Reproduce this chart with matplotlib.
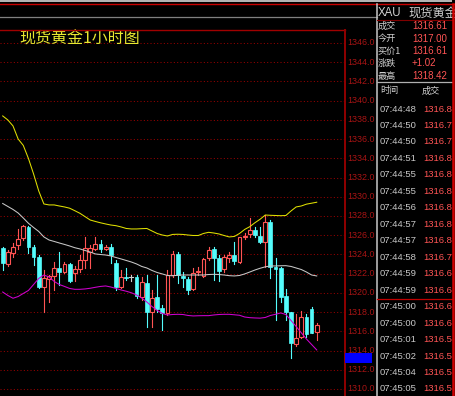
import matplotlib
matplotlib.use('Agg')
import matplotlib.pyplot as plt
import matplotlib.transforms as mtransforms
from matplotlib.patches import Rectangle
from matplotlib.lines import Line2D

# 1 hour candles, spot gold
open_ = [1324.64, 1323.01, 1324.12, 1324.99, 1325.68, 1326.89, 1324.74, 1323.77, 1320.65, 1321.41,
         1321.76, 1322.56, 1322.21, 1323.01, 1322.04, 1322.46, 1323.43, 1324.22, 1324.57, 1325.09,
         1324.57, 1324.81, 1323.15, 1320.65, 1321.69, 1321.62, 1321.62, 1319.61, 1320.99, 1318.05,
         1319.54, 1318.40, 1317.88, 1321.87, 1324.05, 1321.76, 1321.41, 1320.37, 1322.18, 1321.76,
         1323.67, 1324.54, 1323.67, 1322.45, 1323.67, 1323.95, 1323.25, 1325.78, 1326.13, 1326.55,
         1325.96, 1325.33, 1327.41, 1322.66, 1322.56, 1319.68, 1317.98, 1314.69, 1315.45, 1317.53,
         1318.29, 1315.97]
high = [1324.74, 1324.47, 1325.16, 1326.62, 1327.07, 1326.96, 1324.99, 1323.95, 1322.39, 1321.86,
        1323.25, 1324.29, 1323.25, 1323.08, 1322.80, 1323.95, 1325.82, 1324.99, 1325.85, 1325.51,
        1324.99, 1325.09, 1323.43, 1322.39, 1322.56, 1321.86, 1321.86, 1321.69, 1321.86, 1320.30,
        1321.86, 1318.74, 1322.39, 1324.36, 1324.29, 1322.21, 1321.69, 1322.56, 1322.73, 1323.60,
        1324.81, 1324.81, 1323.95, 1323.95, 1324.29, 1325.33, 1325.85, 1326.27, 1327.76, 1326.89,
        1326.83, 1328.11, 1327.59, 1323.60, 1322.73, 1320.37, 1318.05, 1317.81, 1318.15, 1317.81,
        1318.50, 1316.91]
low = [1322.39, 1322.80, 1323.77, 1324.54, 1325.51, 1324.12, 1322.91, 1320.48, 1318.05, 1319.09,
       1320.30, 1320.82, 1322.11, 1321.17, 1321.27, 1322.21, 1322.59, 1322.56, 1324.47, 1324.29,
       1324.47, 1323.08, 1320.30, 1320.48, 1321.34, 1321.27, 1319.44, 1319.26, 1316.49, 1316.49,
       1318.05, 1316.14, 1317.70, 1321.69, 1321.07, 1320.65, 1319.89, 1320.30, 1321.87, 1321.62,
       1323.43, 1321.34, 1321.28, 1322.21, 1323.25, 1323.01, 1323.08, 1325.58, 1325.85, 1325.85,
       1325.23, 1322.73, 1321.52, 1317.18, 1319.09, 1317.18, 1313.19, 1314.48, 1315.28, 1315.45,
       1315.80, 1315.10]
close = [1323.08, 1324.29, 1324.81, 1325.58, 1326.96, 1324.74, 1323.70, 1320.65, 1321.52, 1321.76,
         1322.56, 1322.21, 1323.01, 1321.27, 1322.49, 1323.43, 1324.67, 1324.71, 1325.09, 1324.57,
         1324.81, 1323.95, 1320.65, 1321.62, 1321.52, 1321.62, 1319.68, 1321.10, 1318.05, 1319.44,
         1318.29, 1317.88, 1321.86, 1324.05, 1321.87, 1321.52, 1320.30, 1322.04, 1322.25, 1323.50,
         1324.47, 1323.67, 1322.32, 1323.70, 1323.95, 1323.32, 1325.78, 1325.92, 1326.55, 1326.03,
         1325.33, 1327.41, 1322.73, 1322.45, 1319.61, 1317.98, 1314.75, 1315.34, 1317.53, 1315.73,
         1315.86, 1316.66]

# bollinger bands
upper = [1338.41, 1337.99, 1337.37, 1336.01, 1335.34, 1333.98, 1332.37, 1330.60, 1329.25, 1329.15,
         1329.15, 1329.04, 1328.94, 1328.81, 1328.55, 1328.28, 1327.93, 1327.58, 1327.43, 1327.29,
         1327.17, 1327.06, 1326.99, 1326.86, 1326.70, 1326.65, 1326.65, 1326.68, 1326.70, 1326.44,
         1326.18, 1326.02, 1325.92, 1326.08, 1326.10, 1326.08, 1326.02, 1325.97, 1325.97, 1326.18,
         1326.30, 1326.23, 1326.13, 1325.97, 1325.82, 1325.87, 1326.18, 1326.60, 1326.89, 1327.30,
         1327.66, 1328.10, 1328.07, 1328.05, 1328.03, 1328.05, 1328.52, 1328.94, 1329.04, 1329.23,
         1329.33, 1329.43]
middle = [1329.30, 1328.99, 1328.68, 1328.31, 1327.79, 1327.24, 1326.80, 1326.39, 1325.82, 1325.50,
          1325.35, 1325.19, 1325.04, 1324.88, 1324.70, 1324.57, 1324.41, 1324.25, 1324.05, 1323.99,
          1323.94, 1323.84, 1323.68, 1323.53, 1323.37, 1323.21, 1323.01, 1322.75, 1322.59, 1322.33,
          1322.12, 1321.97, 1321.81, 1321.78, 1321.83, 1321.86, 1321.86, 1321.86, 1321.86, 1321.86,
          1321.91, 1321.93, 1321.91, 1321.86, 1321.79, 1321.76, 1321.81, 1321.97, 1322.17, 1322.38,
          1322.56, 1322.71, 1322.80, 1322.80, 1322.82, 1322.83, 1322.75, 1322.59, 1322.43, 1322.17,
          1321.86, 1321.76]
lower = [1320.09, 1319.73, 1319.44, 1319.62, 1319.94, 1320.25, 1320.87, 1321.50, 1321.86, 1321.65,
         1321.19, 1320.87, 1320.67, 1320.46, 1320.37, 1320.37, 1320.41, 1320.48, 1320.58, 1320.67,
         1320.72, 1320.61, 1320.46, 1320.30, 1320.17, 1320.01, 1319.78, 1319.47, 1319.05, 1318.58,
         1318.17, 1317.86, 1317.70, 1317.75, 1317.77, 1317.75, 1317.65, 1317.60, 1317.62, 1317.63,
         1317.63, 1317.70, 1317.75, 1317.77, 1317.77, 1317.72, 1317.67, 1317.49, 1317.42, 1317.39,
         1317.37, 1317.44, 1317.65, 1317.77, 1317.91, 1317.75, 1317.13, 1316.50, 1315.85, 1315.20,
         1314.63, 1314.06]

price_ticks = list(range(1310, 1347, 2))

# quote panel
quote_labels = ['成交', '今开', '买价1', '涨跌', '最高']
quote_values = ['1316.61', '1317.00', '1316.61', '+1.02', '1318.42']
tick_times = ['07:44:48', '07:44:50', '07:44:50', '07:44:51', '07:44:55', '07:44:55',
              '07:44:56', '07:44:57', '07:44:57', '07:44:58', '07:44:59', '07:44:59',
              '07:45:00', '07:45:00', '07:45:01', '07:45:02', '07:45:04', '07:45:05']
tick_prices = ['1316.8', '1316.7', '1316.7', '1316.8', '1316.8', '1316.8',
               '1316.8', '1316.8', '1316.8', '1316.7', '1316.6', '1316.6',
               '1316.6', '1316.6', '1316.5', '1316.5', '1316.5', '1316.5']

RED = '#ff5454'
CYAN = '#54fcfc'
FONTS = ['Liberation Sans', 'Noto Sans CJK SC', 'DejaVu Sans']
CJK = ['Noto Sans CJK SC', 'DejaVu Sans']

W, H = 456, 396
fig = plt.figure(figsize=(W / 100, H / 100), dpi=100, facecolor='black')


def fx(x):
    return x / W


def fy(y):
    return 1 - y / H


def hline(y, x0, x1, color, lw=0.8, z=5):
    fig.add_artist(Line2D([fx(x0), fx(x1)], [fy(y), fy(y)], color=color, lw=lw, zorder=z))


def vline(x, y0, y1, color, lw=0.8, z=5):
    fig.add_artist(Line2D([fx(x), fx(x)], [fy(y0), fy(y1)], color=color, lw=lw, zorder=z))


ax = fig.add_axes([0, 0, 345 / W, 366 / H])
ax.set_facecolor('black')
ax.set_xlim(-0.524, 66.49)
ax.set_ylim(1309.27, 1347.35)
ax.axis('off')

for p in price_ticks:
    ax.plot([-0.524, 66.49], [p, p], color='#960000', lw=0.75, ls=(0, (1, 2.2)), zorder=1)

# candles
w = 0.74
for i in range(len(open_)):
    o, h, l, c = open_[i], high[i], low[i], close[i]
    if c > o:
        ax.plot([i, i], [c, h], color=RED, lw=0.8, zorder=2)
        ax.plot([i, i], [l, o], color=RED, lw=0.8, zorder=2)
        ax.add_patch(Rectangle((i - w / 2, o), w, c - o, facecolor='black', edgecolor=RED, lw=0.8, zorder=2))
    elif c < o:
        ax.plot([i, i], [l, h], color=CYAN, lw=0.8, zorder=2)
        ax.add_patch(Rectangle((i - w / 2, c), w, o - c, facecolor=CYAN, edgecolor=CYAN, lw=0.5, zorder=2))
    else:
        ax.plot([i, i], [l, h], color='#d0d0d0', lw=0.8, zorder=2)
        ax.plot([i - w / 2, i + w / 2], [o, o], color='#d0d0d0', lw=0.8, zorder=2)

idx = list(range(len(upper)))
ax.plot(idx, upper, color='#e0e000', lw=0.75, zorder=3)
ax.plot(idx, middle, color='#c8c8c8', lw=0.75, zorder=3)
ax.plot(idx, lower, color='#d000d0', lw=0.75, zorder=3)

# right price scale
trans = mtransforms.blended_transform_factory(fig.transFigure, ax.transData)
for p in price_ticks:
    ax.text(fx(347), p, f'{p}.0', transform=trans, color='#a81414', fontsize=6.4,
            family=FONTS, va='center', ha='left', clip_on=False)

fig.add_artist(Rectangle((fx(345), fy(363)), 27 / W, 10 / H, transform=fig.transFigure,
                         facecolor='#0000ff', edgecolor='none', zorder=6))

# frame lines
fig.add_artist(Rectangle((0, fy(2)), fx(452), 2 / H, transform=fig.transFigure,
                         facecolor='#b4b4b4', edgecolor='none', zorder=5))
hline(4, 0, W, '#c80000', lw=1.0)
hline(17, 0, 377, '#808080', lw=0.9)
hline(30, 0, 345, '#a00000', lw=1.0)
vline(345, 30, H, '#900000', lw=1.4)
vline(377, 4, H, '#c8c8c8', lw=1.1)
hline(20, 377, 452, '#800000', lw=0.8)
hline(82, 377, 452, '#b0b0b0', lw=0.9)
hline(299, 377, 452, '#c00000', lw=0.9)
vline(453.5, 4, H, '#d00000', lw=1.8, z=8)

fig.text(fx(19), fy(39.5), '现货黄金1小时图', color='#e8e830', fontsize=11.5,
         family=CJK, va='center', ha='left')

# quote panel text
fig.text(fx(378), fy(13), 'XAU', color='#d0d0d0', fontsize=8.3, family=FONTS, va='center')
fig.text(fx(408), fy(13), '现货黄金', color='#d0d0d0', fontsize=8.8, family=CJK, va='center')
for k, (lab, val) in enumerate(zip(quote_labels, quote_values)):
    y = 26 + 12.5 * k
    fig.text(fx(378), fy(y), lab, color='#d0d0d0', fontsize=6.6, family=CJK, va='center')
    fig.text(fx(412), fy(y), val, color=RED, fontsize=7, family=FONTS, va='center')

fig.text(fx(380), fy(91), '时间', color='#d0d0d0', fontsize=6.6, family=CJK, va='center')
fig.text(fx(422), fy(91), '成交', color='#d0d0d0', fontsize=6.6, family=CJK, va='center')
for k, (t, pr) in enumerate(zip(tick_times, tick_prices)):
    y = 109 + 16.47 * k
    fig.text(fx(380), fy(y), t, color='#c8c8c8', fontsize=6.8, family=FONTS, va='center')
    fig.text(fx(423), fy(y), pr, color=RED, fontsize=6.8, family=FONTS, va='center')

fig.savefig('out.png', dpi=100, facecolor='black')
